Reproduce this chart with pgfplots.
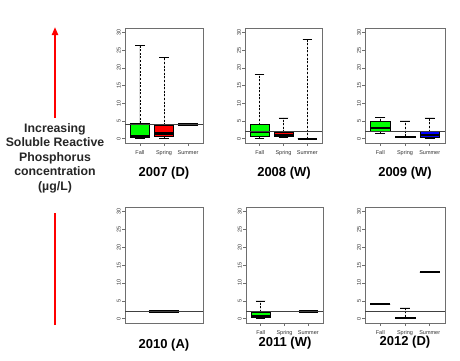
\documentclass[border=0pt]{standalone}
\usepackage{fontspec}
\setmainfont{Liberation Sans}
\usepackage{pgfplots}
\pgfplotsset{compat=1.18}
\usepgfplotslibrary{statistics}
\usetikzlibrary{arrows.meta}
\definecolor{rgreen}{RGB}{0,255,0}
\definecolor{rred}{RGB}{255,0,0}
\definecolor{rblue}{RGB}{0,0,255}
\definecolor{frame}{RGB}{110,110,110}
\pgfplotsset{
  panel/.style={
    scale only axis, anchor=south west,
    xmin=0.38, xmax=3.62, ymin=-1.2, ymax=31.2,
    ytick={0,5,10,15,20,25,30},
    xtick={1,2,3}, xticklabels={Fall,Spring,Summer},
    tick align=outside, tick pos=left, major tick length=3pt,
    /pgf/number format/assume math mode=true,
    yticklabel style={rotate=90, anchor=south, font=\fontsize{5.5}{6}\selectfont, text=black!80, inner sep=1pt},
    xticklabel style={font=\fontsize{5.5}{6}\selectfont, text=black!80, inner sep=1pt, yshift=-3pt},
    axis line style={frame, line width=0.7pt},
    every tick/.style={frame, line width=0.5pt},
    clip=false,
    boxplot/draw direction=y,
    boxplot/box extend=0.8,
    boxplot/whisker extend=0.4,
    boxplot/every median/.style={line width=2.2pt, black},
    boxplot/every box/.style={draw=black, line width=0.5pt},
    boxplot/draw/lower whisker/.code={
      \draw[black, line width=0.5pt, dash pattern=on 2pt off 1.6pt] (boxplot box cs:\pgfplotsboxplotvalue{lower whisker},0.5) -- (boxplot box cs:\pgfplotsboxplotvalue{lower quartile},0.5);
      \draw[solid, black, line width=0.5pt] (boxplot whisker cs:\pgfplotsboxplotvalue{lower whisker},0) -- (boxplot whisker cs:\pgfplotsboxplotvalue{lower whisker},1);
    },
    boxplot/draw/upper whisker/.code={
      \draw[black, line width=0.5pt, dash pattern=on 2pt off 1.6pt] (boxplot box cs:\pgfplotsboxplotvalue{upper quartile},0.5) -- (boxplot box cs:\pgfplotsboxplotvalue{upper whisker},0.5);
      \draw[solid, black, line width=0.5pt] (boxplot whisker cs:\pgfplotsboxplotvalue{upper whisker},0) -- (boxplot whisker cs:\pgfplotsboxplotvalue{upper whisker},1);
    },
  },
  refline/.style={black!75, line width=0.6pt},
}
\begin{document}
\begin{tikzpicture}[x=1pt,y=1pt]
\path[use as bounding box] (0pt,0pt) rectangle (460pt,360pt);

% left annotation
\draw[rred, line width=2.2pt] (55pt,35pt) -- (55pt,147pt);
\draw[rred, line width=2.2pt, -{Triangle[length=8pt,width=6pt]}] (55pt,242pt) -- (55pt,333pt);
\node[align=center, font=\bfseries\fontsize{12.3}{14.5}\selectfont, text=black!85] at (55pt,202pt)
  {Increasing\\Soluble Reactive\\Phosphorus\\concentration\\(µg/L)};

% 2007
\begin{axis}[panel, at={(125pt,217pt)}, width=78pt, height=115pt]
\addplot[fill=rgreen, boxplot prepared={draw position=1, lower whisker=0.1, lower quartile=0.3, median=0.75, upper quartile=4.4, upper whisker=26.2}] coordinates {};
\addplot[fill=rred, boxplot prepared={draw position=2, lower whisker=0.1, lower quartile=0.57, median=1.5, upper quartile=3.8, upper whisker=22.9}] coordinates {};
\addplot[fill=white, boxplot prepared={draw position=3, lower whisker=4, lower quartile=4, median=4, upper quartile=4, upper whisker=4}] coordinates {};
\addplot[refline] coordinates {(0.38,4) (3.62,4)};
\end{axis}

% 2008
\begin{axis}[panel, at={(245pt,217pt)}, width=77pt, height=115pt]
\addplot[fill=rgreen, boxplot prepared={draw position=1, lower whisker=0.1, lower quartile=0.75, median=1.8, upper quartile=4.0, upper whisker=18.1}] coordinates {};
\addplot[fill=rred, boxplot prepared={draw position=2, lower whisker=0.4, lower quartile=0.57, median=1.0, upper quartile=1.8, upper whisker=5.9}] coordinates {};
\addplot[fill=white, boxplot prepared={draw position=3, lower whisker=0, lower quartile=0, median=0, upper quartile=0, upper whisker=28.1}] coordinates {};
\addplot[refline] coordinates {(0.38,2) (3.62,2)};
\end{axis}

% 2009
\begin{axis}[panel, at={(365pt,217pt)}, width=80pt, height=115pt]
\addplot[fill=rgreen, boxplot prepared={draw position=1, lower whisker=1.5, lower quartile=2.0, median=3.0, upper quartile=5.0, upper whisker=6.0}] coordinates {};
\addplot[fill=black, boxplot prepared={draw position=2, lower whisker=0.3, lower quartile=0.3, median=0.5, upper quartile=0.7, upper whisker=5.0}] coordinates {};
\addplot[fill=rblue, boxplot prepared={draw position=3, lower whisker=0.2, lower quartile=0.5, median=1.0, upper quartile=2.0, upper whisker=5.9}] coordinates {};
\addplot[refline] coordinates {(0.38,2) (3.62,2)};
\end{axis}

% 2010
\begin{axis}[panel, at={(125pt,37pt)}, width=78pt, height=116pt, xtick=\empty]
\addplot[fill=white, boxplot/box extend=1.26, boxplot prepared={draw position=2, lower whisker=2, lower quartile=2, median=2, upper quartile=2, upper whisker=2}] coordinates {};
\addplot[refline] coordinates {(0.38,2) (3.62,2)};
\end{axis}

% 2011
\begin{axis}[panel, at={(246pt,37pt)}, width=77pt, height=116pt]
\addplot[fill=rgreen, boxplot prepared={draw position=1, lower whisker=0.2, lower quartile=0.4, median=0.7, upper quartile=1.9, upper whisker=5.0}] coordinates {};
\addplot[fill=white, boxplot prepared={draw position=3, lower whisker=2, lower quartile=2, median=2, upper quartile=2, upper whisker=2}] coordinates {};
\addplot[refline] coordinates {(0.38,2) (3.62,2)};
\end{axis}

% 2012
\begin{axis}[panel, at={(365pt,37pt)}, width=80pt, height=116pt]
\addplot[fill=white, boxplot prepared={draw position=1, lower whisker=4, lower quartile=4, median=4, upper quartile=4, upper whisker=4}] coordinates {};
\addplot[fill=black, boxplot prepared={draw position=2, lower whisker=0.1, lower quartile=0.15, median=0.3, upper quartile=0.45, upper whisker=3.0}] coordinates {};
\addplot[fill=white, boxplot prepared={draw position=3, lower whisker=13, lower quartile=13, median=13, upper quartile=13, upper whisker=13}] coordinates {};
\addplot[refline] coordinates {(0.38,2) (3.62,2)};
\end{axis}

% titles
\begin{scope}[every node/.style={font=\bfseries\fontsize{13}{13}\selectfont}]
\node at (164pt,187pt) {2007 (D)};
\node at (284pt,187pt) {2008 (W)};
\node at (405pt,187pt) {2009 (W)};
\node at (164pt,15pt) {2010 (A)};
\node at (285pt,17pt) {2011 (W)};
\node at (405pt,18pt) {2012 (D)};
\end{scope}
\end{tikzpicture}
\end{document}
